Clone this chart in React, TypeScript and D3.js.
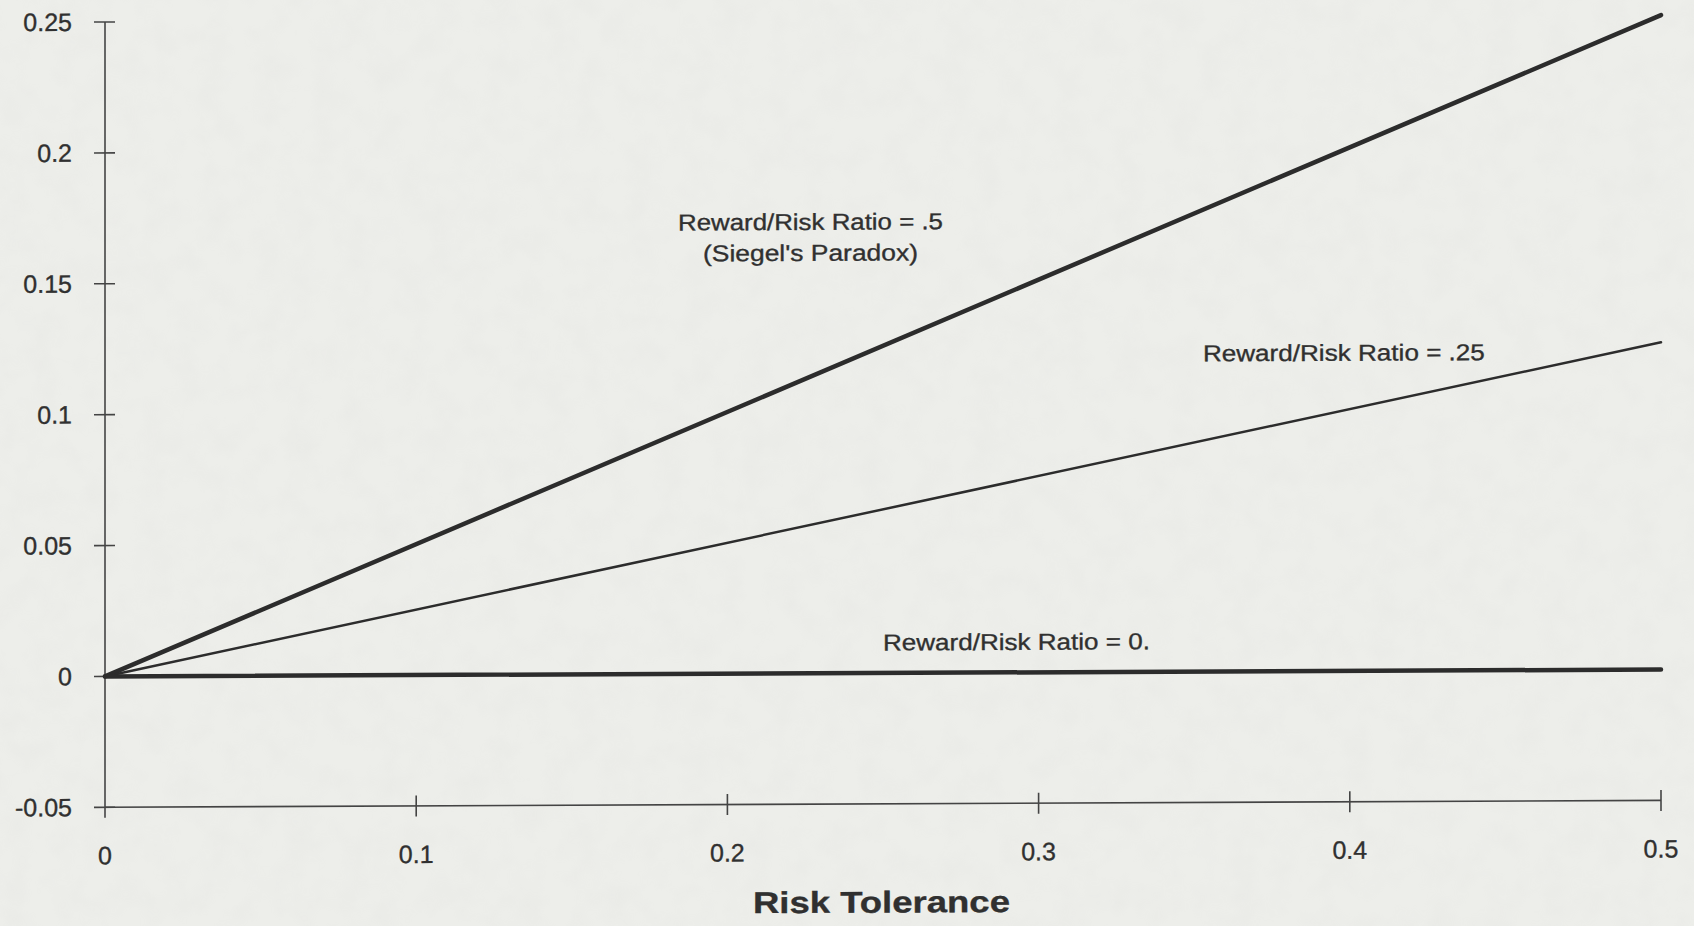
import React from "react"
import * as d3 from "d3"

// risk tolerance (x) and expected growth values at both ends of each line
const riskTolerance = [0, 0.5]
const ratioHalf = [0, 0.25]
const ratioQuarter = [0, 0.125]
const ratioZero = [0, 0]

const xTicks = [0, 0.1, 0.2, 0.3, 0.4, 0.5]
const xTickLabels = ["0", "0.1", "0.2", "0.3", "0.4", "0.5"]
const yTicks = [-0.05, 0, 0.05, 0.1, 0.15, 0.2, 0.25]
const yTickLabels = ["-0.05", "0", "0.05", "0.1", "0.15", "0.2", "0.25"]

const seriesNames = ["Reward/Risk Ratio = .5", "Reward/Risk Ratio = .25", "Reward/Risk Ratio = 0."]
const subNote = "(Siegel's Paradox)"
const xTitle = "Risk Tolerance"

const W = 1694
const H = 926
const font = "'Liberation Sans', Arial, sans-serif"
const ink = "#303030"

export default function App() {
  const xScale = d3.scaleLinear().domain([0, 0.5]).range([0, 1556])
  const yScale = d3.scaleLinear().domain([-0.05, 0.25]).range([807.3, 22])

  const line = d3
    .line<number>()
    .x((d, i) => xScale(riskTolerance[i]))
    .y((d) => yScale(d))

  const series = [
    { vals: ratioHalf, w: 4.5 },
    { vals: ratioQuarter, w: 2.5 },
    { vals: ratioZero, w: 4.5 },
  ]

  const y0 = yScale(-0.05)

  return (
    <svg
      width={W}
      height={H}
      style={{ position: "absolute", left: 0, top: 0, background: "#ecede9" }}
    >
      <defs>
        <filter id="paper" x="0" y="0" width="100%" height="100%">
          <feTurbulence type="fractalNoise" baseFrequency="0.035" numOctaves={3} seed={4} />
          <feColorMatrix type="matrix" values="0 0 0 0 0.5  0 0 0 0 0.5  0 0 0 0 0.5  0 0 0 0.9 -0.35" />
        </filter>
      </defs>
      <rect x={0} y={0} width={W} height={H} fill="#edeeea" />
      <rect x={0} y={0} width={W} height={H} filter="url(#paper)" opacity={0.12} />
      {/* the scan is slightly sheared, so the whole plot is skewed a touch */}
      <g transform="translate(105,0) skewY(-0.254)" fontFamily={font} fill={ink} stroke={ink} strokeWidth={0.35}>
        {/* y axis */}
        <line x1={0} x2={0} y1={yScale(0.25)} y2={y0 + 10.5} stroke="#444" strokeWidth={1.6} />
        {yTicks.map((t, i) => (
          <g key={"y" + i}>
            <line x1={-11} x2={10} y1={yScale(t)} y2={yScale(t)} stroke="#444" strokeWidth={1.6} />
            <text x={-33} y={yScale(t) + 8.7} textAnchor="end" fontSize={25}>
              {yTickLabels[i]}
            </text>
          </g>
        ))}

        {/* x axis */}
        <line x1={0} x2={xScale(0.5)} y1={y0} y2={y0} stroke="#444" strokeWidth={1.6} />
        {xTicks.map((t, i) => (
          <g key={"x" + i}>
            {i > 0 && (
              <line x1={xScale(t)} x2={xScale(t)} y1={y0 - 10.5} y2={y0 + 10.5} stroke="#444" strokeWidth={1.6} />
            )}
            <text x={xScale(t)} y={y0 + 57} textAnchor="middle" fontSize={25}>
              {xTickLabels[i]}
            </text>
          </g>
        ))}

        {/* lines */}
        {series.map((s, i) => (
          <path
            key={"s" + i}
            d={line(s.vals) || ""}
            fill="none"
            stroke="#2c2c2c"
            strokeWidth={s.w}
            strokeLinecap="round"
          />
        ))}

        {/* annotations */}
        <text x={xScale(0.2267)} y={yScale(0.1694)} textAnchor="middle" fontSize={23} textLength={265} lengthAdjust="spacingAndGlyphs">
          {seriesNames[0]}
        </text>
        <text x={xScale(0.2267)} y={yScale(0.1694) + 31} textAnchor="middle" fontSize={23} textLength={215} lengthAdjust="spacingAndGlyphs">
          {subNote}
        </text>
        <text x={xScale(0.3981)} y={yScale(0.1185)} textAnchor="middle" fontSize={23} textLength={282} lengthAdjust="spacingAndGlyphs">
          {seriesNames[1]}
        </text>
        <text x={xScale(0.2929)} y={yScale(0.0086)} textAnchor="middle" fontSize={23} textLength={267} lengthAdjust="spacingAndGlyphs">
          {seriesNames[2]}
        </text>

        <text x={xScale(0.2495)} y={916} textAnchor="middle" fontSize={30} fontWeight="bold" textLength={257} lengthAdjust="spacingAndGlyphs">
          {xTitle}
        </text>
      </g>
    </svg>
  )
}
